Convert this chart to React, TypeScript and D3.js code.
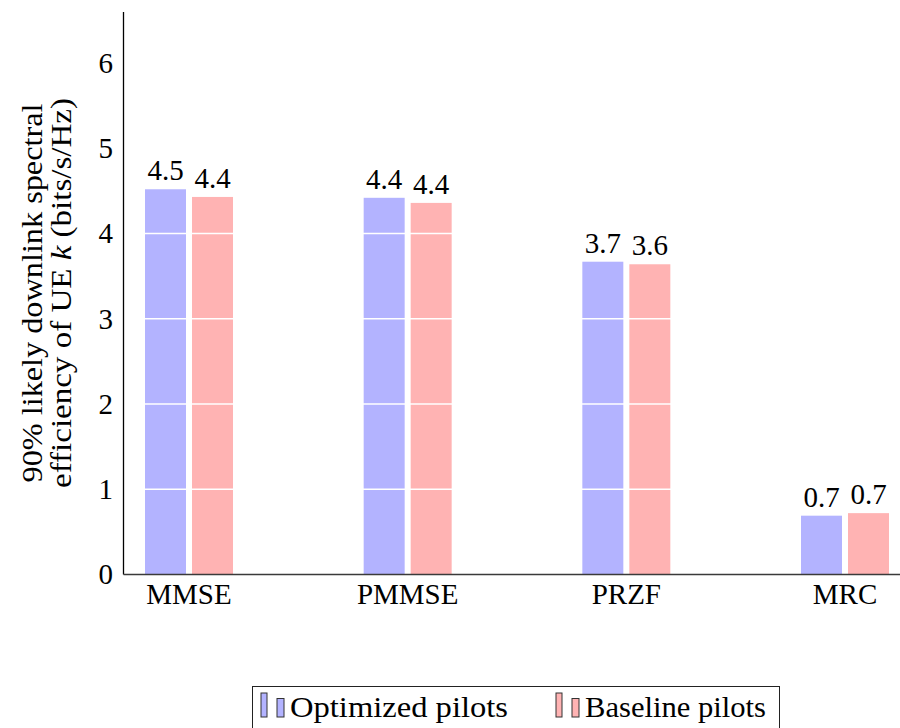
import React from 'react';
import * as d3 from 'd3';

const categories = ['MMSE', 'PMMSE', 'PRZF', 'MRC'];
const optimized = [4.52, 4.42, 3.67, 0.69];
const baseline = [4.43, 4.36, 3.64, 0.72];
const yTicks = [0, 1, 2, 3, 4, 5, 6];
const seriesNames = ['Optimized pilots', 'Baseline pilots'];
const seriesColors = ['#b3b3ff', '#ffb3b3'];

const FONT = 'Liberation Serif';

const App = () => {
  const width = 900;
  const height = 728;
  const left = 123.5;
  const bottom = 574.5;

  const x = d3.scalePoint<string>().domain(categories).range([189, 845]);
  const y = d3.scaleLinear().domain([0, 6.6]).range([bottom, 12]);

  const barW = 41;
  const series = [optimized, baseline];
  const offsets = [-44, 3];

  const txt = { fontFamily: FONT, fontSize: '29px' };

  return (
    <svg width={width} height={height} style={{ display: 'block', position: 'absolute', left: 0, top: 0 }}>
      {/* bars */}
      {series.map((vals, s) =>
        vals.map((v, i) => (
          <rect
            key={`b${s}-${i}`}
            x={(x(categories[i]) as number) + offsets[s]}
            y={y(v)}
            width={barW}
            height={bottom - y(v)}
            fill={seriesColors[s]}
          />
        ))
      )}

      {/* white grid lines drawn over bars */}
      {yTicks.slice(1).map((t) => (
        <line key={`g${t}`} x1={left} x2={width} y1={y(t)} y2={y(t)} stroke="#fff" strokeWidth={1.5} />
      ))}

      {/* value labels */}
      {series.map((vals, s) =>
        vals.map((v, i) => (
          <text
            key={`v${s}-${i}`}
            x={(x(categories[i]) as number) + offsets[s] + barW / 2}
            y={y(v) - 9}
            textAnchor="middle"
            style={txt}
            fill="#000"
          >
            {v.toFixed(1)}
          </text>
        ))
      )}

      {/* axes */}
      <line x1={left} x2={left} y1={12} y2={bottom} stroke="#000" strokeWidth={1.3} />
      <line x1={left} x2={width} y1={bottom} y2={bottom} stroke="#3a3a3a" strokeWidth={1.4} />

      {yTicks.map((t) => (
        <text key={`t${t}`} x={113} y={y(t)} dy="0.34em" textAnchor="end" style={txt} fill="#000">
          {t}
        </text>
      ))}

      {categories.map((c) => (
        <text key={c} x={x(c) as number} y={604} textAnchor="middle" style={txt} fill="#000">
          {c}
        </text>
      ))}

      {/* y axis label */}
      <g transform="rotate(-90)">
        <text x={-293} y={42} textAnchor="middle" style={txt} textLength={379} lengthAdjust="spacingAndGlyphs">
          90% likely downlink spectral
        </text>
        <text x={-293} y={71} textAnchor="middle" style={txt} textLength={390} lengthAdjust="spacingAndGlyphs">
          efficiency of UE <tspan fontStyle="italic">k</tspan> (bits/s/Hz)
        </text>
      </g>

      {/* legend */}
      <rect x={252.5} y={686.5} width={527} height={60} fill="#fff" stroke="#222" strokeWidth={1} />
      {seriesNames.map((name, s) => {
        const tx = s === 0 ? 290 : 585;
        const len = s === 0 ? 218 : 181;
        return (
          <g key={name}>
            <rect x={tx - 29} y={693} width={6} height={24} fill={seriesColors[s]} stroke="#333" strokeWidth={1} />
            <rect x={tx - 13} y={698.5} width={7} height={18.5} fill={seriesColors[s]} stroke="#333" strokeWidth={1} />
            <text x={tx} y={717} style={txt} textLength={len} lengthAdjust="spacingAndGlyphs">
              {name}
            </text>
          </g>
        );
      })}
    </svg>
  );
};

export default App;
